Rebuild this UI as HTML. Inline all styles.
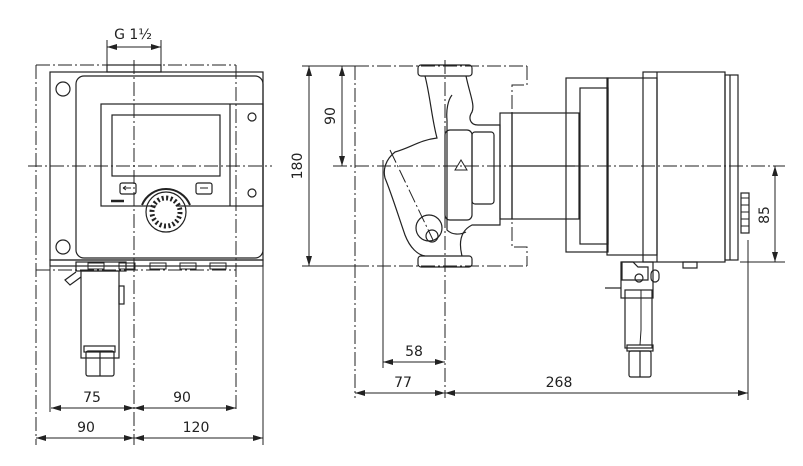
<!DOCTYPE html>
<html><head><meta charset="utf-8"><style>
html,body{margin:0;padding:0;background:#fff}
svg{display:block}
text{font-family:"DejaVu Sans","Liberation Sans",sans-serif;font-size:14px;fill:#222}
</style></head><body>
<svg width="803" height="466" viewBox="0 0 803 466" xmlns="http://www.w3.org/2000/svg">
<defs>
<marker id="a" viewBox="0 0 10 6" refX="10" refY="3" markerWidth="10" markerHeight="6" orient="auto-start-reverse" markerUnits="userSpaceOnUse"><path d="M0,0 L10,3 L0,6 z" fill="#222"/></marker>
</defs>
<g fill="none" stroke="#222" stroke-width="1.2">
<g stroke-dasharray="14,3,2,3" stroke-width="1">
<line x1="36" y1="65" x2="236" y2="65"/>
<line x1="36" y1="65" x2="36" y2="445"/>
<line x1="236" y1="65" x2="236" y2="412"/>
<line x1="28" y1="166" x2="272" y2="166"/>
<line x1="134" y1="60" x2="134" y2="445"/>
<line x1="36" y1="270" x2="236" y2="270"/>
</g>
<rect x="50" y="72" width="213" height="188"/>
<rect x="76" y="76" width="187" height="182" rx="8"/>
<circle cx="63" cy="89" r="7"/>
<circle cx="63" cy="247" r="7"/>
<rect x="101" y="104" width="162" height="102"/>
<line x1="230" y1="104" x2="230" y2="206"/>
<rect x="112" y="115" width="108" height="61"/>
<circle cx="252" cy="117" r="4"/>
<circle cx="252" cy="193" r="4"/>
<rect x="120" y="183" width="16" height="11" rx="2"/>
<rect x="196" y="183" width="16" height="11" rx="2"/>
<line x1="111" y1="201" x2="124" y2="201" stroke-width="2.5"/>
<circle cx="166" cy="212" r="20"/>
<circle cx="166" cy="212" r="14" stroke-dasharray="2,2.4" stroke-width="5"/>
<circle cx="166" cy="212" r="11.5" fill="#fff" stroke="none"/>
<path d="M142,205 A26,26 0 0 1 190,205" stroke-width="2"/>
<path d="M123,188 h8 M123,188 l3,-2 M123,188 l3,2 M200,188 h8" stroke-width="1"/>
<rect x="107" y="65" width="54" height="7"/>
<line x1="107" y1="40" x2="107" y2="65" stroke-width="1"/>
<line x1="161" y1="40" x2="161" y2="65" stroke-width="1"/>
<line x1="107" y1="47" x2="161" y2="47" marker-start="url(#a)" marker-end="url(#a)" stroke-width="1"/>
<rect x="50" y="260" width="213" height="6"/>
<g stroke-width="1">
<rect x="88" y="263" width="16" height="6"/><rect x="119" y="263" width="16" height="6"/>
<rect x="150" y="263" width="16" height="6"/><rect x="180" y="263" width="16" height="6"/>
<rect x="210" y="263" width="16" height="6"/>
</g>
<rect x="76" y="262" width="50" height="9"/>
<path d="M76,272 L65,280 L70,285 L81,277"/>
<rect x="81" y="271" width="38" height="87"/>
<rect x="119" y="286" width="5" height="18"/>
<rect x="84" y="346" width="31" height="6"/>
<rect x="86" y="351" width="28" height="25" rx="2"/>
<line x1="100" y1="351" x2="100" y2="376"/>
<g stroke-width="1">
<line x1="50" y1="260" x2="50" y2="412"/>
<line x1="263" y1="260" x2="263" y2="445"/>
<line x1="51" y1="408" x2="134" y2="408" marker-start="url(#a)" marker-end="url(#a)"/>
<line x1="134" y1="408" x2="236" y2="408" marker-start="url(#a)" marker-end="url(#a)"/>
<line x1="36" y1="438" x2="134" y2="438" marker-start="url(#a)" marker-end="url(#a)"/>
<line x1="134" y1="438" x2="263" y2="438" marker-start="url(#a)" marker-end="url(#a)"/>
</g>

<g stroke-dasharray="14,3,2,3" stroke-width="1">
<line x1="333" y1="166" x2="785" y2="166"/>
<line x1="355" y1="66" x2="355" y2="398"/>
<line x1="355" y1="66" x2="527" y2="66"/>
<line x1="355" y1="266" x2="527" y2="266"/>
<line x1="445" y1="60" x2="445" y2="398"/>
<path d="M527,66 V85 H512 V247 H527 V266"/>
</g>
<g stroke-width="1">
<line x1="302" y1="66" x2="355" y2="66"/>
<line x1="302" y1="266" x2="355" y2="266"/>
<line x1="309" y1="66" x2="309" y2="266" marker-start="url(#a)" marker-end="url(#a)"/>
<line x1="342" y1="66" x2="342" y2="166" marker-start="url(#a)" marker-end="url(#a)"/>
<line x1="383" y1="160" x2="383" y2="368"/>
<line x1="383" y1="362" x2="445" y2="362" marker-start="url(#a)" marker-end="url(#a)"/>
<line x1="355" y1="393" x2="445" y2="393" marker-start="url(#a)" marker-end="url(#a)"/>
<line x1="445" y1="393" x2="748" y2="393" marker-start="url(#a)" marker-end="url(#a)"/>
<line x1="748" y1="240" x2="748" y2="400"/>
<line x1="740" y1="262" x2="785" y2="262"/>
<line x1="775" y1="166" x2="775" y2="262" marker-start="url(#a)" marker-end="url(#a)"/>
</g>
<rect x="418" y="65" width="54" height="11" rx="3"/>
<rect x="418" y="256" width="54" height="11" rx="3"/>
<path d="M425,76 C430,95 432,120 437,138 C420,140 410,148 395,152 C385,160 383,170 385,178 C392,195 398,215 405,235 C410,248 418,255 425,256 M466,76 C470,95 475,105 472,112 C468,118 470,125 478,125 L500,125 L500,225 L472,225 C462,230 458,240 462,256"/>
<path d="M452,95 C448,100 446,110 447,120 L447,230 C452,235 460,235 466,232"/>
<rect x="445" y="130" width="27" height="90" rx="5"/>
<rect x="472" y="132" width="22" height="72" rx="3"/>
<rect x="500" y="113" width="12" height="106"/>
<circle cx="429" cy="228" r="13"/>
<circle cx="432" cy="236" r="6"/>
<line x1="390" y1="150" x2="433" y2="240" stroke-dasharray="14,3,2,3" stroke-width="1"/>
<path d="M455,170 L461,160 L467,170 z" stroke-width="1"/>
<rect x="512" y="113" width="67" height="106"/>
<line x1="512" y1="166" x2="575" y2="166"/>
<rect x="566" y="78" width="42" height="174"/>
<rect x="580" y="88" width="28" height="156"/>
<rect x="607" y="78" width="50" height="177"/>
<rect x="643" y="72" width="82" height="190"/>
<line x1="657" y1="72" x2="657" y2="262"/>
<rect x="725" y="75" width="13" height="185"/>
<line x1="730" y1="75" x2="730" y2="260"/>
<rect x="741" y="193" width="8" height="40"/>
<g stroke-width="1"><line x1="741" y1="198" x2="749" y2="198"/><line x1="741" y1="205" x2="749" y2="205"/><line x1="741" y1="212" x2="749" y2="212"/><line x1="741" y1="219" x2="749" y2="219"/><line x1="741" y1="226" x2="749" y2="226"/></g>
<rect x="683" y="262" width="14" height="6"/>
<path d="M622,262 H633 L638,267 H648 V280 H622 Z"/>
<rect x="621" y="262" width="32" height="36"/>
<circle cx="639" cy="278" r="4"/>
<rect x="651" y="270" width="8" height="12" rx="4"/>
<line x1="605" y1="288" x2="621" y2="288"/>
<rect x="625" y="290" width="27" height="58"/>
<path d="M641,290 V330 L640,345" stroke-width="1"/>
<rect x="627" y="345" width="26" height="6"/>
<rect x="629" y="351" width="22" height="26" rx="2"/>
<line x1="640" y1="351" x2="640" y2="377"/>
</g>
<text x="133" y="39" text-anchor="middle">G 1½</text>
<text x="92" y="402" text-anchor="middle">75</text>
<text x="182" y="402" text-anchor="middle">90</text>
<text x="86" y="432" text-anchor="middle">90</text>
<text x="196" y="432" text-anchor="middle">120</text>
<text x="414" y="356" text-anchor="middle">58</text>
<text x="403" y="387" text-anchor="middle">77</text>
<text x="559" y="387" text-anchor="middle">268</text>
<text transform="translate(302,166) rotate(-90)" text-anchor="middle">180</text>
<text transform="translate(335,116) rotate(-90)" text-anchor="middle">90</text>
<text transform="translate(769,215) rotate(-90)" text-anchor="middle">85</text>
</svg>
</body></html>
